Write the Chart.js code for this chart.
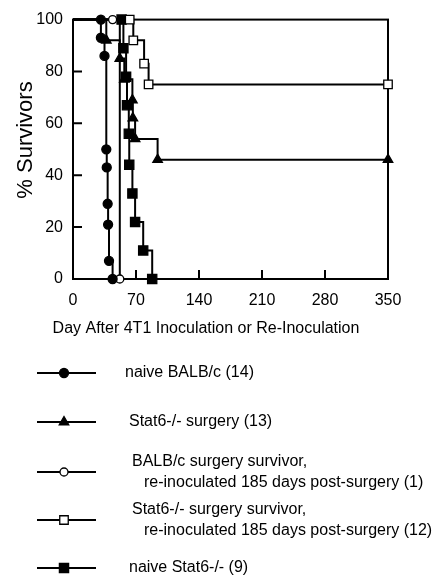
<!DOCTYPE html>
<html>
<head>
<meta charset="utf-8">
<script src="https://cdn.jsdelivr.net/npm/chart.js@4"></script>
<style>
  body { margin: 0; background: #fff; }
  #wrap { width: 441px; height: 578px; position: relative; }
</style>
</head>
<body>
<div id="wrap"><canvas id="survChart"></canvas></div>
<script>
// Kaplan-Meier style survival data (day, % survivors)
const naiveBalbDays = [0, 31, 31, 35, 37, 37.5, 38.5, 39, 40, 44];
const naiveBalbPct  = [100, 100, 93, 86, 50, 43, 29, 21, 7, 0];

const stat6SurgDays = [0, 37, 52, 57, 66, 66.5, 69, 94, 350];
const stat6SurgPct  = [100, 92, 85, 77, 69, 62, 54, 46, 46];

const balbSurvDays = [0, 44, 52];
const balbSurvPct  = [100, 100, 0];

const stat6SurvDays = [0, 63, 67, 79, 84, 350];
const stat6SurvPct  = [100, 100, 92, 83, 75, 75];

const naiveStat6Days = [0, 54, 56, 59, 60, 62, 62.5, 66, 69, 78, 88];
const naiveStat6Pct  = [100, 100, 89, 78, 67, 56, 44, 33, 22, 11, 0];

const xTicks = [0, 70, 140, 210, 280, 350];
const yTicks = [0, 20, 40, 60, 80, 100];

const legendLabels = [
    ['naive BALB/c (14)'],
    ['Stat6-/- surgery (13)'],
    ['BALB/c surgery survivor,', 're-inoculated 185 days post-surgery (1)'],
    ['Stat6-/- surgery survivor,', 're-inoculated 185 days post-surgery (12)'],
    ['naive Stat6-/- (9)']
];

const FONT = '"Liberation Sans", Arial, sans-serif';

function series(days, pct, style, fill, radius) {
    return {
        data: days.map((d, i) => ({ x: d, y: pct[i] })),
        stepped: true,
        borderColor: '#000',
        borderWidth: 2,
        pointStyle: style,
        pointBackgroundColor: fill,
        pointBorderColor: '#000',
        pointBorderWidth: 1.3,
        pointRadius: days.map((d, i) => i === 0 ? 0 : radius),
        clip: false
    };
}

const datasets = [
    series(naiveBalbDays, naiveBalbPct, 'circle', '#000', 4.5),
    series(stat6SurgDays, stat6SurgPct, 'triangle', '#000', 5.5),
    series(balbSurvDays, balbSurvPct, 'circle', '#fff', 4),
    series(stat6SurvDays, stat6SurvPct, 'rect', '#fff', 6),
    series(naiveStat6Days, naiveStat6Pct, 'rect', '#000', 6.5)
];

// frame, inward tick marks, axis titles and the legend
const framePlugin = {
    id: 'frame',
    beforeDatasetsDraw(chart) {
        const { ctx, chartArea: a, scales } = chart;
        ctx.save();
        ctx.strokeStyle = '#000';
        ctx.lineWidth = 2;
        ctx.strokeRect(a.left, a.top, a.right - a.left, a.bottom - a.top);
        ctx.beginPath();
        xTicks.forEach(v => {
            const px = scales.x.getPixelForValue(v);
            ctx.moveTo(px, a.bottom);
            ctx.lineTo(px, a.bottom - 9);
        });
        yTicks.forEach(v => {
            const py = scales.y.getPixelForValue(v);
            ctx.moveTo(a.left, py);
            ctx.lineTo(a.left + 9, py);
        });
        ctx.stroke();
        ctx.restore();
    },
    afterDraw(chart) {
        const { ctx } = chart;
        ctx.save();
        ctx.fillStyle = '#000';
        ctx.textBaseline = 'middle';
        ctx.textAlign = 'center';

        // y axis title
        ctx.save();
        ctx.translate(26, 140);
        ctx.rotate(-Math.PI / 2);
        ctx.font = '22px ' + FONT;
        ctx.fillText('% Survivors', 0, 0);
        ctx.restore();

        // x axis title (sits left of centre in the original)
        ctx.font = '16px ' + FONT;
        ctx.fillText('Day After 4T1 Inoculation or Re-Inoculation', 206, 329);

        // legend
        const rowY = [373, 422, 472, 520, 568];
        const textX = [125, 129, 132, 132, 129];
        ctx.textAlign = 'left';
        ctx.font = '16px ' + FONT;
        chart.data.datasets.forEach((ds, i) => {
            const y = rowY[i];
            ctx.strokeStyle = '#000';
            ctx.lineWidth = 2;
            ctx.beginPath();
            ctx.moveTo(37, y);
            ctx.lineTo(96, y);
            ctx.stroke();
            ctx.fillStyle = ds.pointBackgroundColor;
            ctx.strokeStyle = '#000';
            ctx.lineWidth = 1.3;
            Chart.helpers.drawPoint(ctx, {
                pointStyle: ds.pointStyle,
                radius: ds.pointRadius[1],
                borderWidth: 1.3,
                rotation: 0
            }, 64, y);
            ctx.fillStyle = '#000';
            const lines = legendLabels[i];
            if (lines.length === 1) {
                ctx.fillText(lines[0], textX[i], y);
            } else {
                ctx.fillText(lines[0], textX[i], y - 10);
                ctx.fillText(lines[1], 144, y + 11);
            }
        });
        ctx.restore();
    }
};

new Chart(document.getElementById('survChart'), {
    type: 'line',
    data: { datasets },
    options: {
        responsive: true,
        maintainAspectRatio: false,
        animation: false,
        layout: { padding: { left: 0, top: 13, right: 53, bottom: 239 } },
        plugins: {
            legend: { display: false },
            tooltip: { enabled: false }
        },
        scales: {
            x: {
                type: 'linear',
                min: 0,
                max: 350,
                afterFit: s => { s.height = 60; },
                afterBuildTicks: s => { s.ticks = xTicks.map(v => ({ value: v })); },
                grid: { display: false, drawTicks: false },
                border: { display: false },
                ticks: {
                    color: '#000', padding: 12, autoSkip: false, maxRotation: 0,
                    font: { family: FONT, size: 16 }
                }
            },
            y: {
                min: 0,
                max: 100,
                afterFit: s => { s.width = 73; },
                afterBuildTicks: s => { s.ticks = yTicks.map(v => ({ value: v })); },
                grid: { display: false, drawTicks: false },
                border: { display: false },
                ticks: { color: '#000', padding: 10, font: { family: FONT, size: 16 } }
            }
        }
    },
    plugins: [framePlugin]
});
</script>
</body>
</html>
